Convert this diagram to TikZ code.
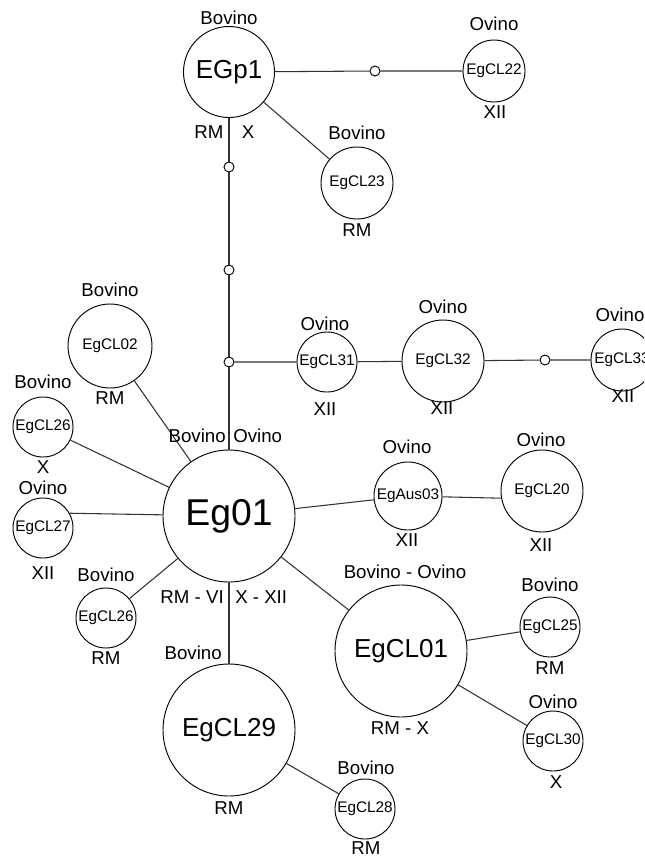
\documentclass[tikz,border=0pt]{standalone}
\usepackage{fontspec}
\setmainfont{Liberation Sans}
\begin{document}
\begin{tikzpicture}[x=0.75pt,y=-0.75pt,
  hap/.style={circle,draw=black,line width=0.7pt,fill=white,inner sep=0pt,minimum size=0.75pt*#1},
  small/.style={font=\fontsize{11.5}{12}\selectfont},
  mid/.style={font=\fontsize{19.5}{20}\selectfont},
  huge/.style={font=\fontsize{28}{30}\selectfont},
  lbl/.style={font=\fontsize{14}{15}\selectfont,inner sep=0pt},
  junc/.style={circle,draw=black,line width=0.7pt,fill=white,inner sep=0pt,minimum size=7.5pt},
  edge/.style={draw=black!80,line width=0.8pt}]
\useasboundingbox (0,0) rectangle (644,857);
\clip (0,0) rectangle (644,857);
% haplotype nodes
\node[hap=91,mid] (EGp1) at (229,72) {EGp1};
\node[hap=62,small] (EgCL22) at (494,71) {EgCL22};
\node[hap=72,small] (EgCL23) at (357,183) {EgCL23};
\node[hap=132,huge] (Eg01) at (229,516) {Eg01};
\node[hap=84,small] (EgCL02) at (110,346) {EgCL02};
\node[hap=60,small] (EgCL26a) at (43,427) {EgCL26};
\node[hap=60,small] (EgCL27) at (43,528) {EgCL27};
\node[hap=60,small] (EgCL26b) at (106,618) {EgCL26};
\node[hap=132,mid] (EgCL29) at (229,730) {EgCL29};
\node[hap=132,mid] (EgCL01) at (401,651) {EgCL01};
\node[hap=60,small] (EgCL25) at (550,627) {EgCL25};
\node[hap=60,small] (EgCL30) at (553,741) {EgCL30};
\node[hap=60,small] (EgCL28) at (365,809) {EgCL28};
\node[hap=68,small] (EgAus03) at (408,496) {EgAus03};
\node[hap=82,small] (EgCL20) at (542,491) {EgCL20};
\node[hap=60,small] (EgCL31) at (327,362) {EgCL31};
\node[hap=82,small] (EgCL32) at (443,361) {EgCL32};
\node[hap=62,small] (EgCL33) at (622,360) {EgCL33};
% median vectors
\node[junc] (j1) at (375,71) {};
\node[junc] (j2) at (229,167) {};
\node[junc] (j3) at (229,270) {};
\node[junc] (j4) at (229,362) {};
\node[junc] (j5) at (545,360) {};
% connectors
\draw[edge] (EGp1) -- (j1) -- (EgCL22);
\draw[edge] (EGp1) -- (EgCL23);
\draw[edge] (EGp1) -- (j2) -- (j3) -- (j4) -- (Eg01);
\draw[edge] (j4) -- (EgCL31) -- (EgCL32) -- (j5) -- (EgCL33);
\draw[edge] (Eg01) -- (EgCL02);
\draw[edge] (Eg01) -- (EgCL26a);
\draw[edge] (Eg01) -- (EgCL27.29);
\draw[edge] (Eg01) -- (EgCL26b);
\draw[edge] (Eg01) -- (EgCL29);
\draw[edge] (Eg01) -- (EgCL01);
\draw[edge] (Eg01) -- (EgAus03);
\draw[edge] (EgAus03) -- (EgCL20.190);
\draw[edge] (EgCL01) -- (EgCL25);
\draw[edge] (EgCL01) -- (EgCL30);
\draw[edge] (EgCL29) -- (EgCL28);
% labels
\node[lbl] (l1) at (229,18) {Bovino};
\node[lbl] (l2) at (209,132) {RM};
\node[lbl] (l3) at (248,132) {X};
\node[lbl] (l4) at (494,24) {Ovino};
\node[lbl] (l5) at (495,112) {XII};
\node[lbl] (l6) at (357,133) {Bovino};
\node[lbl] (l7) at (357,230) {RM};
\node[lbl] (l8) at (110,290) {Bovino};
\node[lbl] (l9) at (110,398) {RM};
\node[lbl] (l10) at (43,382) {Bovino};
\node[lbl] (l11) at (43,467) {X};
\node[lbl] (l12) at (43,488) {Ovino};
\node[lbl] (l13) at (43,573) {XII};
\node[lbl] (l14) at (106,575) {Bovino};
\node[lbl] (l15) at (106,658) {RM};
\node[lbl,anchor=east] (l16) at (226,436) {Bovino};
\node[lbl,anchor=west] (l17) at (233,436) {Ovino};
\node[lbl,anchor=east] (l18) at (224,597) {RM - VI};
\node[lbl,anchor=west] (l19) at (235,597) {X - XII};
\node[lbl,anchor=east] (l20) at (222,653) {Bovino};
\node[lbl] (l21) at (229,808) {RM};
\node[lbl] (l22) at (405,572) {Bovino - Ovino};
\node[lbl] (l23) at (400,728) {RM - X};
\node[lbl] (l24) at (550,585) {Bovino};
\node[lbl] (l25) at (550,668) {RM};
\node[lbl] (l26) at (553,702) {Ovino};
\node[lbl] (l27) at (556,782) {X};
\node[lbl] (l28) at (366,768) {Bovino};
\node[lbl] (l29) at (366,848) {RM};
\node[lbl] (l30) at (407,447) {Ovino};
\node[lbl] (l31) at (407,540) {XII};
\node[lbl] (l32) at (541,440) {Ovino};
\node[lbl] (l33) at (541,545) {XII};
\node[lbl] (l34) at (325,324) {Ovino};
\node[lbl] (l35) at (325,409) {XII};
\node[lbl] (l36) at (443,307) {Ovino};
\node[lbl] (l37) at (442,408) {XII};
\node[lbl] (l38) at (620,315) {Ovino};
\node[lbl] (l39) at (623,396) {XII};
\end{tikzpicture}
\end{document}
